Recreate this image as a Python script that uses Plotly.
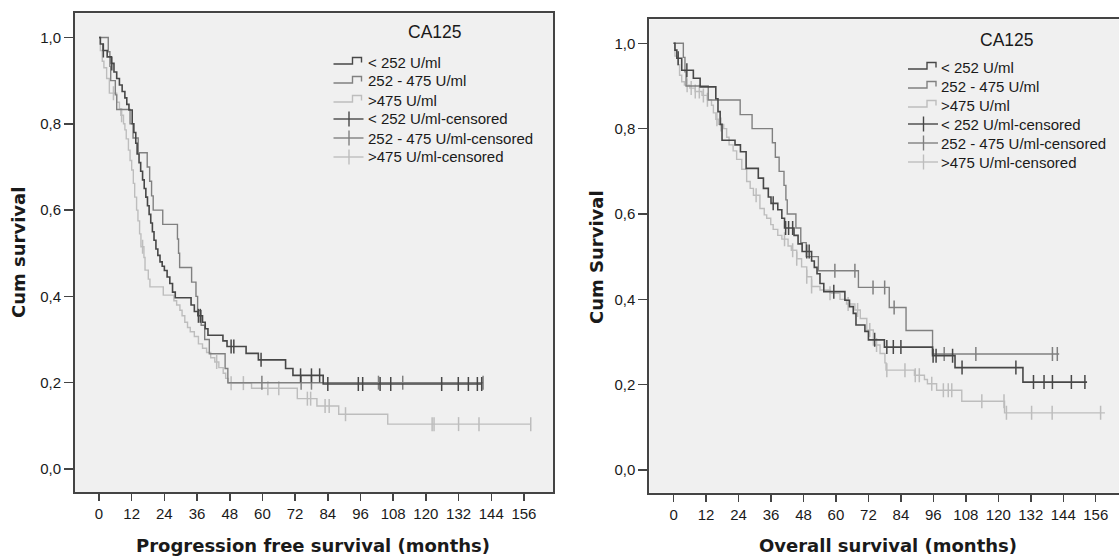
import numpy as np
import plotly.graph_objects as go

# ---------------- data ----------------
month_ticks = list(range(0, 157, 12))
surv_ticks = [0.0, 0.2, 0.4, 0.6, 0.8, 1.0]
surv_tick_text = ["0,0", "0,2", "0,4", "0,6", "0,8", "1,0"]
group_names = ["< 252 U/ml", "252 - 475 U/ml", ">475 U/ml"]
legend_title = "CA125"

# Progression free survival
pfs_lt252_t = [0, 0.5, 1.5, 3, 4.5, 5.5, 6.5, 7.5, 8.5, 9.5, 10.2, 11, 12.2, 12.8, 13.5, 14, 14.7, 15.3, 16, 16.6,
               17.2, 17.8, 18.4, 19, 19.6, 20.2, 20.9, 21.6, 22.4, 23.2, 24, 25, 26, 27, 28, 33.8, 35, 36.3, 38, 39,
               40, 45.5, 47, 54, 58.5, 68.5, 71.2, 82.3, 140.5]
pfs_lt252_s = [1.0, 0.985, 0.97, 0.955, 0.94, 0.92, 0.905, 0.89, 0.875, 0.86, 0.845, 0.832, 0.80, 0.78, 0.755, 0.73,
               0.71, 0.69, 0.67, 0.65, 0.63, 0.61, 0.59, 0.57, 0.55, 0.53, 0.51, 0.495, 0.48, 0.47, 0.46, 0.445, 0.43,
               0.41, 0.397, 0.38, 0.365, 0.355, 0.34, 0.325, 0.31, 0.297, 0.284, 0.268, 0.253, 0.233, 0.217, 0.197, 0.197]
pfs_lt252_cens = [1.6, 4.7, 36.5, 37.2, 48.5, 49.5, 59.5, 74, 78, 81, 84, 95.2, 96.8, 103.2, 107.1, 125.8, 131.9,
                  135.6, 138.9, 140.5]

pfs_mid_t = [0, 3.4, 4.0, 4.3, 6.0, 6.5, 11.4, 12.5, 14.4, 17.7, 18.6, 19.3, 19.9, 23.4, 28.8, 29.2, 29.6, 34,
             35.6, 36.2, 37.5, 38.8, 40.5, 46.3, 47.3, 141]
pfs_mid_s = [1.0, 0.967, 0.933, 0.90, 0.867, 0.833, 0.80, 0.767, 0.733, 0.70, 0.667, 0.633, 0.60, 0.567, 0.533,
             0.50, 0.467, 0.433, 0.40, 0.367, 0.333, 0.30, 0.267, 0.233, 0.20, 0.20]
pfs_mid_cens = [59.8, 74.2, 78, 102.6, 111.5, 141]

pfs_gt475_t = [0, 0.5, 1.2, 1.8, 2.8, 3.8, 6.5, 7.5, 8.0, 9.0, 9.5, 10.0, 10.8, 11.4, 12.0, 12.6, 13.1, 13.8, 14.3,
               14.9, 15.4, 16.5, 16.9, 18.1, 18.7, 23.6, 27.5, 28.5, 29.7, 30.5, 31.5, 32.5, 33.5, 35, 36.5, 38, 39.5,
               41, 42.5, 44, 45.6, 46.5, 47.5, 56, 72.8, 80, 88, 106, 158.5]
pfs_gt475_s = [1.0, 0.97, 0.945, 0.93, 0.905, 0.871, 0.85, 0.835, 0.82, 0.80, 0.786, 0.765, 0.739, 0.715, 0.693,
               0.662, 0.63, 0.60, 0.575, 0.545, 0.515, 0.49, 0.461, 0.44, 0.422, 0.403, 0.39, 0.38, 0.368, 0.355, 0.34,
               0.328, 0.318, 0.307, 0.29, 0.28, 0.27, 0.258, 0.248, 0.235, 0.222, 0.21, 0.199, 0.187, 0.163, 0.146,
               0.127, 0.104, 0.104]
pfs_gt475_cens = [5.3, 8.3, 16.0, 43.2, 48.5, 53, 62, 66, 76.5, 77.7, 83, 84.5, 90.5, 122.3, 123, 132, 139.5, 158.5]

# Overall survival
os_lt252_t = [0, 0.5, 1.2, 3.0, 7.3, 9.8, 15.6, 16.4, 17.2, 17.9, 22.7, 24.7, 26.8, 31.3, 33.2, 35.0, 36.0, 38.5,
              40.0, 41.0, 44.5, 46.0, 47.5, 51.0, 52.0, 53.0, 54.1, 55.5, 63.3, 65.0, 66.4, 67.4, 70.7, 72.0, 77.9,
              95.7, 104, 129.1, 152.8]
os_lt252_s = [1.0, 0.984, 0.965, 0.937, 0.918, 0.898, 0.87, 0.84, 0.81, 0.773, 0.762, 0.746, 0.707, 0.684, 0.66,
              0.64, 0.625, 0.61, 0.59, 0.567, 0.55, 0.53, 0.512, 0.49, 0.475, 0.46, 0.437, 0.418, 0.398, 0.383, 0.367,
              0.34, 0.325, 0.305, 0.288, 0.268, 0.24, 0.206, 0.206]
os_lt252_cens = [1.7, 4.9, 36.8, 41.4, 42.5, 44, 49.2, 50.1, 59.2, 74.3, 78.8, 81.2, 84, 95.9, 97, 103.1, 106.6,
                 126.5, 133, 136.9, 140, 147, 152]

os_mid_t = [0, 3.6, 4.2, 4.6, 12.8, 24.6, 29.0, 36.5, 37.6, 39.0, 40.8, 41.5, 42.0, 45.2, 47.0, 49.0, 53.5, 68.3,
            79.7, 85.9, 95.7, 142.5]
os_mid_s = [1.0, 0.967, 0.933, 0.90, 0.867, 0.833, 0.80, 0.767, 0.733, 0.70, 0.667, 0.633, 0.60, 0.567, 0.533,
            0.50, 0.467, 0.428, 0.381, 0.327, 0.272, 0.272]
os_mid_cens = [59.6, 67, 73.7, 78, 81.5, 100, 111.7, 140, 141.8]

os_gt475_t = [0, 0.5, 1.5, 2.2, 3.0, 4.0, 6, 8, 10.5, 12.5, 14.0, 14.7, 15.6, 16.5, 18.5, 19.6, 20.5, 22, 23.3, 25.2,
              27, 28.3, 29.5, 31.9, 33.5, 34.4, 35.9, 36.8, 38.5, 40, 42.3, 43.5, 45.5, 47.3, 49.2, 51, 54.1, 57.8,
              61.5, 63.9, 67, 69, 71.4, 73.8, 76.3, 78.1, 78.5, 89.0, 92.7, 93.8, 97.2, 106.5, 122.3, 159.4]
os_gt475_s = [1.0, 0.97, 0.95, 0.925, 0.91, 0.902, 0.895, 0.887, 0.878, 0.868, 0.855, 0.837, 0.822, 0.81, 0.80,
              0.78, 0.762, 0.748, 0.728, 0.705, 0.676, 0.66, 0.644, 0.613, 0.598, 0.59, 0.575, 0.564, 0.55, 0.541,
              0.525, 0.515, 0.495, 0.476, 0.453, 0.43, 0.422, 0.414, 0.40, 0.389, 0.375, 0.355, 0.328, 0.293, 0.273,
              0.251, 0.234, 0.222, 0.212, 0.202, 0.187, 0.161, 0.134, 0.134]
os_gt475_cens = [5, 6.5, 8, 9.5, 11, 12.5, 16, 17.5, 30.5, 41, 44, 45.5, 49.2, 51, 57.8, 64.5, 68, 72.5, 75, 78.8,
                 85.5, 89.3, 90.8, 95.4, 99.7, 101.5, 102.8, 113.9, 122.1, 123, 132.3, 139.9, 157.8]

# ---------------- styling ----------------
W, H = 1119, 559
COLORS = ["#474747", "#808080", "#bdbdbd"]
LINE_W = [1.6, 1.4, 1.4]
AX_COL = "#444444"
TXT_COL = "#1a1a1a"
TICK_FONT = dict(family="Liberation Sans, Arial, sans-serif", size=15, color=TXT_COL)
TITLE_FONT = dict(family="DejaVu Sans, Verdana, sans-serif", size=18, color=TXT_COL)
LEG_FONT = dict(family="Liberation Sans, Arial, sans-serif", size=15, color=TXT_COL)


def step_value(ts, ss, q):
    ts = np.asarray(ts, float)
    ss = np.asarray(ss, float)
    idx = np.searchsorted(ts, np.asarray(q, float), side="right") - 1
    return ss[np.clip(idx, 0, len(ss) - 1)]


def px(x):
    return x / W


def py(y):
    return 1 - y / H


fig = go.Figure()

panels = [
    dict(xa="x", ya="y",
         series=[(pfs_lt252_t, pfs_lt252_s, pfs_lt252_cens),
                 (pfs_mid_t, pfs_mid_s, pfs_mid_cens),
                 (pfs_gt475_t, pfs_gt475_s, pfs_gt475_cens)]),
    dict(xa="x2", ya="y2",
         series=[(os_lt252_t, os_lt252_s, os_lt252_cens),
                 (os_mid_t, os_mid_s, os_mid_cens),
                 (os_gt475_t, os_gt475_s, os_gt475_cens)]),
]

for p in panels:
    # draw light first so the darker ones sit on top
    for gi in [2, 1, 0]:
        t, s, c = p["series"][gi]
        fig.add_trace(go.Scatter(x=t, y=s, mode="lines", line=dict(color=COLORS[gi], width=LINE_W[gi], shape="hv"),
                                 xaxis=p["xa"], yaxis=p["ya"], showlegend=False, hoverinfo="skip"))
        fig.add_trace(go.Scatter(x=c, y=step_value(t, s, c), mode="markers",
                                 marker=dict(symbol="line-ns", size=10, line=dict(color=COLORS[gi], width=1.5)),
                                 xaxis=p["xa"], yaxis=p["ya"], showlegend=False, hoverinfo="skip"))

common_x = dict(tickmode="array", tickvals=month_ticks, ticks="outside", ticklen=7, tickwidth=1.5, tickcolor=AX_COL,
                showline=True, linecolor=AX_COL, linewidth=2, showgrid=False, zeroline=False, tickfont=TICK_FONT)
common_y = dict(tickmode="array", tickvals=surv_ticks, ticktext=surv_tick_text, ticks="outside", ticklen=9,
                tickwidth=1.5, tickcolor=AX_COL, showline=True, linecolor=AX_COL, linewidth=2, showgrid=False,
                zeroline=False, tickfont=TICK_FONT)

fig.update_layout(
    width=W, height=H, margin=dict(l=0, r=0, t=0, b=0),
    paper_bgcolor="white", plot_bgcolor="#f0f0f0", showlegend=False,
    xaxis=dict(domain=[px(75), px(553)], range=[-8.81, 166.67], mirror=True, anchor="y", **common_x),
    yaxis=dict(domain=[py(492), py(13.3)], range=[-0.0533, 1.0561], mirror=True, anchor="x", **common_y),
    xaxis2=dict(domain=[px(649.3), 1.0], range=[-8.98, 164.6], mirror=True, anchor="y2", **common_x),
    yaxis2=dict(domain=[py(492.7), py(19.3)], range=[-0.0532, 1.0563], mirror=False, anchor="x2", **common_y),
)

ann = []
shapes = []
# axis titles
ann.append(dict(text="<b>Progression free survival (months)</b>", x=px(313), y=py(545.5), xref="paper", yref="paper",
                showarrow=False, font=TITLE_FONT, xanchor="center", yanchor="middle"))
ann.append(dict(text="<b>Overall survival (months)</b>", x=px(887.5), y=py(545.5), xref="paper", yref="paper",
                showarrow=False, font=TITLE_FONT, xanchor="center", yanchor="middle"))
ann.append(dict(text="<b>Cum survival</b>", x=px(19), y=py(253), xref="paper", yref="paper", textangle=-90,
                showarrow=False, font=TITLE_FONT, xanchor="center", yanchor="middle"))
ann.append(dict(text="<b>Cum Survival</b>", x=px(596.5), y=py(256.5), xref="paper", yref="paper", textangle=-90,
                showarrow=False, font=TITLE_FONT, xanchor="center", yanchor="middle"))

# custom legends (SPSS style)
legend_specs = [
    dict(title_x=434.5, title_y=32.5, sym_x0=333.5, text_x=365.5, row0=62.0, dy=19.0),
    dict(title_x=1007, title_y=40.0, sym_x0=908.0, text_x=938.5, row0=67.0, dy=19.0),
]
labels = group_names + [g + "-censored" for g in group_names]
for L in legend_specs:
    ann.append(dict(text=legend_title, x=px(L["title_x"]), y=py(L["title_y"]), xref="paper", yref="paper",
                    showarrow=False, font=dict(family=LEG_FONT["family"], size=17.5, color=TXT_COL),
                    xanchor="center", yanchor="middle"))
    for i, lab in enumerate(labels):
        cy = L["row0"] + i * L["dy"]
        ann.append(dict(text=lab, x=px(L["text_x"]), y=py(cy), xref="paper", yref="paper", showarrow=False,
                        font=LEG_FONT, xanchor="left", yanchor="middle"))
        col = COLORS[i % 3]
        x0 = L["sym_x0"]
        if i < 3:
            pts = [(x0, cy + 2), (x0 + 19, cy + 2), (x0 + 19, cy - 4.5), (x0 + 28, cy - 4.5), (x0 + 28, cy + 0.5)]
            path = "M " + " L ".join(f"{px(a):.5f},{py(b):.5f}" for a, b in pts)
            shapes.append(dict(type="path", path=path, xref="paper", yref="paper",
                               line=dict(color=col, width=1.4)))
        else:
            shapes.append(dict(type="line", x0=px(x0), x1=px(x0 + 30), y0=py(cy), y1=py(cy), xref="paper",
                               yref="paper", line=dict(color=col, width=1.4)))
            shapes.append(dict(type="line", x0=px(x0 + 15.5), x1=px(x0 + 15.5), y0=py(cy - 7.5), y1=py(cy + 7.5),
                               xref="paper", yref="paper", line=dict(color=col, width=1.4)))

fig.update_layout(annotations=ann, shapes=shapes)
# remove the browser's default 8px body margin so the figure fills the window exactly; hide the mode bar
fig.write_html("out.html", config={"displayModeBar": False, "staticPlot": True},
               post_script="document.body.style.margin='0';document.body.style.padding='0';")
